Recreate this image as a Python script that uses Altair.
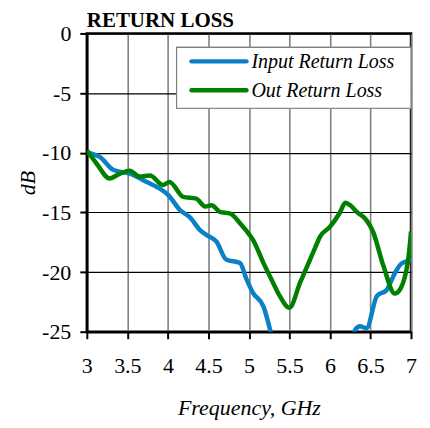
import altair as alt
import pandas as pd

series_names = ["Input Return Loss", "Out Return Loss"]

in_freq = [3.0, 3.16, 3.33, 3.53, 3.74, 3.9, 4.0, 4.15, 4.27, 4.4, 4.48, 4.6, 4.72, 4.89, 4.97, 5.05, 5.18, 5.26, 5.32, 5.5, 6.0, 6.27, 6.31, 6.37, 6.45, 6.58, 6.7, 6.8, 6.88, 7.0]
in_db = [-10.0, -10.35, -11.45, -11.75, -12.45, -13.0, -13.5, -14.8, -15.4, -16.5, -16.9, -17.45, -18.95, -19.25, -20.6, -21.75, -22.9, -24.8, -26.5, -29.0, -29.0, -26.0, -24.85, -24.55, -24.7, -22.0, -21.5, -20.1, -19.3, -19.0]

out_freq = [3.0, 3.12, 3.28, 3.41, 3.53, 3.65, 3.78, 3.94, 4.02, 4.19, 4.35, 4.46, 4.54, 4.64, 4.77, 4.89, 5.01, 5.05, 5.18, 5.28, 5.38, 5.5, 5.63, 5.79, 5.88, 6.0, 6.12, 6.19, 6.25, 6.33, 6.45, 6.53, 6.66, 6.8, 6.86, 6.97, 7.0]
out_db = [-9.8, -10.9, -12.15, -11.75, -11.5, -12.0, -11.9, -12.7, -12.45, -13.7, -13.85, -14.5, -14.4, -14.95, -15.1, -15.9, -16.9, -17.3, -19.25, -20.65, -22.0, -23.0, -20.9, -18.4, -17.0, -16.2, -15.05, -14.2, -14.4, -14.95, -15.65, -16.6, -19.5, -21.8, -21.5, -18.7, -16.6]

x_ticks = [3, 3.5, 4, 4.5, 5, 5.5, 6, 6.5, 7]
y_ticks = [0, -5, -10, -15, -20, -25]
colors = ["#0a80c6", "#008000"]

df = pd.concat([
    pd.DataFrame({"f": in_freq, "db": in_db, "s": series_names[0], "o": range(len(in_freq))}),
    pd.DataFrame({"f": out_freq, "db": out_db, "s": series_names[1], "o": range(len(out_freq))}),
])
leg_df = pd.DataFrame({"s": series_names, "row": [0, 1]})

font = "Liberation Serif"
color_scale = alt.Scale(domain=series_names, range=colors)

lines = alt.Chart(df).mark_line(clip=True, strokeWidth=4.5, interpolate="monotone").encode(
    x=alt.X("f:Q", scale=alt.Scale(domain=[3, 7], nice=False),
            axis=alt.Axis(values=x_ticks, title="Frequency, GHz", titleFontStyle="italic",
                          labelExpr="'' + datum.value",
                          grid=True, gridColor="#808080", gridWidth=1.6, gridOpacity=1,
                          labelPadding=17, titlePadding=21, labelFlush=False)),
    y=alt.Y("db:Q", scale=alt.Scale(domain=[-25, 0], nice=False),
            axis=alt.Axis(values=y_ticks, title="dB", titleFontStyle="italic",
                          labelExpr="'' + datum.value",
                          grid=True, gridColor="#000000", gridWidth=1.2, gridOpacity=1,
                          labelPadding=9, titlePadding=2)),
    color=alt.Color("s:N", scale=color_scale, legend=None),
    order="o:Q",
)

leg_box = alt.Chart(leg_df).mark_rect(fill="white", stroke="#808080", strokeWidth=1.2).encode(
    x=alt.value(90), x2=alt.value(325), y=alt.value(14), y2=alt.value(75),
)
leg_lines = alt.Chart(leg_df).mark_rule(strokeWidth=4.5, strokeCap="round").encode(
    x=alt.value(105), x2=alt.value(160),
    y=alt.Y("row:Q", scale=alt.Scale(domain=[0, 1], range=[28, 57]), axis=None),
    color=alt.Color("s:N", scale=color_scale, legend=None),
)
leg_text = alt.Chart(leg_df).mark_text(align="left", baseline="middle", font=font,
                                       fontStyle="italic", fontSize=20, color="black").encode(
    x=alt.value(165),
    y=alt.Y("row:Q", scale=alt.Scale(domain=[0, 1], range=[29, 58]), axis=None),
    text="s:N",
)

chart = alt.layer(lines, leg_box, leg_lines, leg_text).resolve_scale(y="independent").properties(
    width=325, height=299,
    padding={"left": 8, "top": 2, "right": 5, "bottom": 5},
    title=alt.TitleParams("RETURN LOSS", anchor="start", frame="group", font=font, fontSize=21,
                          fontWeight="bold", offset=-9, color="black"),
).configure_axis(
    labelFont=font, titleFont=font, labelFontSize=22, titleFontSize=22,
    labelColor="black", titleColor="black", titleFontWeight="normal",
    domainColor="black", domainWidth=2.5, tickColor="black", tickWidth=2, tickSize=7,
).configure_view(
    stroke="black", strokeWidth=2.5,
)

chart.save("out.html", embed_options={"renderer": "svg", "actions": False})
